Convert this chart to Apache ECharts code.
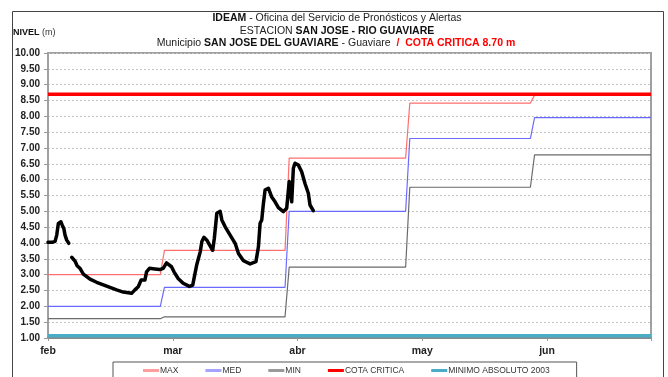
<!DOCTYPE html>
<html>
<head>
<meta charset="utf-8">
<script src="https://cdn.jsdelivr.net/npm/echarts@6/dist/echarts.min.js"></script>
<style>
  html, body { margin: 0; padding: 0; background: #fff; }
  #chart { width: 668px; height: 377px; }
</style>
</head>
<body>
<div id="chart"></div>
<script>
// Month tick labels, one every 30 days from 1 Feb
const monthLabels = ['feb', 'mar', 'abr', 'may', 'jun'];

// Day index (from 1 Feb) where the historical reference levels change
const stepDays = [0, 27, 28, 57, 58, 86, 87, 116, 117, 145];
const maxLevels = [3.00, 3.00, 3.77, 3.77, 6.68, 6.68, 8.42, 8.42, 8.67, 8.67];
const medLevels = [2.00, 2.00, 2.60, 2.60, 5.00, 5.00, 7.30, 7.30, 7.96, 7.96];
const minLevels = [1.61, 1.61, 1.67, 1.67, 3.24, 3.24, 5.76, 5.76, 6.78, 6.78];

// Fixed thresholds (m)
const cotaCritica = 8.70;
const minimoAbsoluto = 1.07;
const spanDays = [0, 145];

// Observed level (m) at the station, null marks a gap in the record
const obsDays = [0.0, 1.0, 1.7, 2.1, 2.5, 3.1, 3.4, 3.8, 4.1, 4.5, 5.0, 5.3,
  5.7, 6.5, 7.0, 7.7, 8.5, 10.1, 11.7, 14.1, 16.5, 18.1, 20.1, 20.9, 21.7, 22.4,
  23.3, 23.7, 24.4, 25.7, 26.9, 27.7, 28.5, 28.9, 29.7, 30.3, 31.3, 32.5, 34.0,
  34.8, 35.2, 35.8, 36.6, 37.0, 37.5, 38.2, 38.8, 39.6, 40.0, 40.6, 41.0, 41.4,
  41.8, 42.6, 43.8, 45.0, 45.8, 47.0, 48.6, 50.0, 50.6, 51.0, 51.4, 51.8, 52.2,
  53.0, 53.8, 54.6, 55.4, 56.6, 57.4, 58.0, 58.6, 59.0, 59.4, 60.2, 61.0, 61.8,
  62.6, 63.0, 63.8];
const obsLevels = [4.02, 4.02, 4.05, 4.25, 4.62, 4.67, 4.57, 4.46, 4.25, 4.09, 3.99, null,
  3.55, 3.43, 3.28, 3.20, 3.02, 2.86, 2.76, 2.64, 2.52, 2.45, 2.41, 2.52, 2.62, 2.83,
  2.83, 3.09, 3.20, 3.18, 3.16, 3.20, 3.37, 3.38, 3.25, 3.09, 2.88, 2.73, 2.63,
  2.67, 2.94, 3.33, 3.72, 4.05, 4.18, 4.09, 3.95, 3.77, 4.15, 4.94, 4.99, 5.00,
  4.73, 4.51, 4.25, 3.99, 3.67, 3.44, 3.34, 3.41, 3.88, 4.62, 4.73, 5.25, 5.67,
  5.73, 5.45, 5.30, 5.12, 4.99, 5.10, 5.94, 5.30, 6.36, 6.52, 6.46, 6.25, 5.88,
  5.57, 5.20, 5.02];

const pairs = (xs, ys) => xs.map((x, i) => [x, ys[i]]);

const FONT = "'Liberation Sans', Arial, sans-serif";
const chart = echarts.init(document.getElementById('chart'), null, { renderer: 'canvas' });

const thinLine = (name, color, levels) => ({
  name, type: 'line', data: pairs(stepDays, levels),
  showSymbol: false, symbol: 'none', silent: true,
  lineStyle: { color, width: 1.2 }, itemStyle: { color }, z: 3
});

chart.setOption({
  animation: false,
  textStyle: { fontFamily: FONT },
  grid: {
    left: 48, right: 17, top: 53, bottom: 39,
    show: true, borderColor: '#a0a0a0', borderWidth: 2, backgroundColor: '#fff'
  },
  xAxis: {
    type: 'value', min: 0, max: 145, interval: 30,
    axisLine: { lineStyle: { color: '#8a8a8a', width: 2 } },
    axisTick: { show: true, length: 3, lineStyle: { color: '#999' } },
    splitLine: { show: false },
    axisLabel: {
      margin: 8, color: '#222', fontWeight: 'bold', fontSize: 10.5, fontFamily: FONT,
      formatter: v => (v % 30 === 0 ? (monthLabels[v / 30] || '') : '')
    }
  },
  yAxis: {
    type: 'value', min: 1, max: 10, interval: 0.5,
    axisLine: { show: true, lineStyle: { color: '#a0a0a0', width: 2 } },
    axisTick: { show: true, length: 4, lineStyle: { color: '#999' } },
    splitLine: { show: true, lineStyle: { color: '#c4c4c4', type: [2, 2], width: 1 } },
    axisLabel: {
      margin: 8, color: '#222', fontWeight: 'bold', fontSize: 10, fontFamily: FONT,
      formatter: v => v.toFixed(2)
    }
  },
  legend: {
    left: 113, top: 362,
    padding: [4, 27, 20, 30],
    borderColor: '#555', borderWidth: 1,
    icon: 'rect', itemWidth: 16, itemHeight: 3, itemGap: 27,
    textStyle: { fontSize: 8.5, color: '#333', fontFamily: FONT, padding: [0, 0, 0, -4] },
    data: [
      { name: 'MAX', itemStyle: { color: '#ff9e9e' } },
      { name: 'MED', itemStyle: { color: '#a4a4ff' } },
      { name: 'MIN', itemStyle: { color: '#9a9a9a' } },
      { name: 'COTA CRITICA', itemStyle: { color: '#ff0000' } },
      { name: 'MINIMO ABSOLUTO 2003', itemStyle: { color: '#4bacc6' } }
    ]
  },
  graphic: [
    {
      type: 'rect', silent: true, z: -10,
      shape: { x: 12.5, y: 11.5, width: 651, height: 420 },
      style: { fill: null, stroke: '#444', lineWidth: 1 }
    },
    {
      type: 'text', x: 337, y: 18,
      style: {
        text: '{b|IDEAM} - Oficina del Servicio de Pronósticos y Alertas',
        align: 'center', verticalAlign: 'middle',
        font: '10.5px ' + FONT, fill: '#222',
        rich: { b: { fontWeight: 'bold', fontSize: 10.5, fontFamily: FONT, fill: '#111' } }
      }
    },
    {
      type: 'text', x: 337, y: 31,
      style: {
        text: 'ESTACION {b|SAN JOSE - RIO GUAVIARE}',
        align: 'center', verticalAlign: 'middle',
        font: '10.5px ' + FONT, fill: '#222',
        rich: { b: { fontWeight: 'bold', fontSize: 10.5, fontFamily: FONT, fill: '#111' } }
      }
    },
    {
      type: 'text', x: 336, y: 43,
      style: {
        text: 'Municipio {b|SAN JOSE DEL GUAVIARE} - Guaviare  {r|/  COTA CRITICA 8.70 m}',
        align: 'center', verticalAlign: 'middle',
        font: '10.5px ' + FONT, fill: '#222',
        rich: {
          b: { fontWeight: 'bold', fontSize: 10.5, fontFamily: FONT, fill: '#111' },
          r: { fontWeight: 'bold', fontSize: 10.5, fontFamily: FONT, fill: '#ff0000' }
        }
      }
    },
    {
      type: 'text', x: 13, y: 33,
      style: {
        text: '{b|NIVEL} (m)',
        align: 'left', verticalAlign: 'middle',
        font: '9px ' + FONT, fill: '#333',
        rich: { b: { fontWeight: 'bold', fontSize: 9, fontFamily: FONT, fill: '#111' } }
      }
    }
  ],
  series: [
    thinLine('MAX', '#ff6e6e', maxLevels),
    thinLine('MED', '#6a6aff', medLevels),
    thinLine('MIN', '#6a6a6a', minLevels),
    {
      name: 'COTA CRITICA', type: 'line', silent: true, z: 4,
      data: pairs(spanDays, [cotaCritica, cotaCritica]),
      showSymbol: false, symbol: 'none',
      lineStyle: { color: '#ff0000', width: 3.5 }, itemStyle: { color: '#ff0000' }
    },
    {
      name: 'MINIMO ABSOLUTO 2003', type: 'line', silent: true, z: 4,
      data: pairs(spanDays, [minimoAbsoluto, minimoAbsoluto]),
      showSymbol: false, symbol: 'none',
      lineStyle: { color: '#4bacc6', width: 3.5 }, itemStyle: { color: '#4bacc6' }
    },
    {
      name: 'NIVEL', type: 'line', silent: true, z: 6,
      data: pairs(obsDays, obsLevels),
      connectNulls: false, showSymbol: false, symbol: 'none',
      lineStyle: { color: '#000', width: 3.5, join: 'round', cap: 'round' },
      itemStyle: { color: '#000' }
    }
  ]
});
</script>
</body>
</html>
